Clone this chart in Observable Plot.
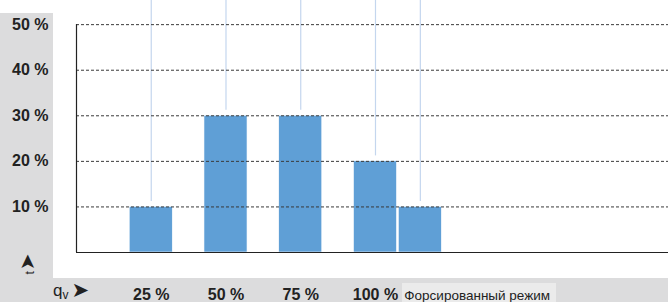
<!DOCTYPE html>
<html>
<head>
<meta charset="utf-8">
<script src="https://cdn.jsdelivr.net/npm/d3@7"></script>
<script src="https://cdn.jsdelivr.net/npm/@observablehq/plot@0.6"></script>
<style>
  html, body { margin: 0; padding: 0; background: #fff; }
  #wrap { position: relative; width: 668px; height: 302px; overflow: hidden; background: #fff;
          font-family: "Liberation Sans Narrow", "Liberation Sans", Arial, sans-serif; }
  .bg { position: absolute; }
  #panel { left: 0; top: 13px; width: 53px; height: 265px; background: #dcdcdd; }
  #band { left: 0; top: 278px; width: 668px; height: 24px; background: #dcdcdd; }
  #fbox { left: 402px; top: 283px; width: 154px; height: 19px; background: #ebebeb; }
  #chart { position: absolute; left: 0; top: 0; }
  #qv { position: absolute; left: 53px; top: 281px; height: 20px; font-size: 17px; line-height: 20px; color: #222; white-space: nowrap; }
  #qv sub { font-size: 12px; vertical-align: -3px; line-height: 0; }
  #qv .arr { font-family: "DejaVu Sans", sans-serif; font-size: 21px; line-height: 18px; margin-left: 3px; display: inline-block; vertical-align: top; }
  #tarrow { position: absolute; left: 15px; top: 254px; width: 30px; height: 20px; line-height: 20px; color: #222;
            transform: rotate(-90deg); transform-origin: center; white-space: nowrap; text-align: center; font-size: 12px; }
  #tarrow .arr { font-family: "DejaVu Sans", sans-serif; font-size: 20px; line-height: 0; margin-left: 1px; }
</style>
</head>
<body>
<div id="wrap">
  <div class="bg" id="panel"></div>
  <div class="bg" id="band"></div>
  <div class="bg" id="fbox"></div>
  <div id="chart"></div>
  <div id="tarrow">t<span class="arr">➤</span></div>
  <div id="qv">q<sub>v</sub><span class="arr">➤</span></div>
</div>
<script>
// Data
const qvLabels = ["25 %", "50 %", "75 %", "100 %", "Форсированный режим"];
const qvPositions = [25, 50, 75, 100, 115];
const shares = [10, 30, 30, 20, 10];
const yTicks = [10, 20, 30, 40, 50];
const xTicks = [25, 50, 75, 100];
const forcedLabel = "Форсированный режим";
const forcedPosition = 115;

const bars = qvLabels.map((label, i) => ({label, q: qvPositions[i], share: shares[i]}));
const half = 7.2;
const yTop = 55.3;

const font = '"Liberation Sans Narrow", "Liberation Sans", Arial, sans-serif';

const chart = Plot.plot({
  width: 668,
  height: 302,
  marginLeft: 76,
  marginRight: 0,
  marginTop: 0,
  marginBottom: 50,
  style: {background: "transparent", fontFamily: font, color: "#222", overflow: "visible"},
  x: {domain: [0, 198]},
  y: {domain: [0, yTop]},
  marks: [
    Plot.ruleX(bars, {x: "q", y1: d => d.share + 1.2, y2: yTop, stroke: "#c4d6ee", strokeWidth: 1.2}),
    Plot.rectY(bars, {x1: d => d.q - half, x2: d => d.q + half, y1: 0, y2: "share", fill: "#5f9fd6", stroke: "#fff", strokeWidth: 0.6}),
    Plot.ruleY(yTicks, {stroke: "#3a3a3a", strokeDasharray: "3,2", strokeWidth: 1}),
    Plot.ruleY([0], {stroke: "#222", strokeWidth: 1.2}),
    Plot.ruleX([0], {y1: 0, y2: 50, stroke: "#222", strokeWidth: 1.2}),
    Plot.axisY({ticks: yTicks, tickFormat: d => d + " %", tickSize: 0, tickPadding: 28, fontSize: 16, fontWeight: "bold", label: null}),
    Plot.axisX({ticks: xTicks, tickFormat: d => d + " %", tickSize: 0, tickPadding: 36, fontSize: 16, fontWeight: "bold", label: null}),
    Plot.axisX([forcedPosition], {tickFormat: () => forcedLabel, tickSize: 0, tickPadding: 38, fontSize: 13.5, fontWeight: "normal", textAnchor: "start", dx: -16, label: null})
  ]
});
document.getElementById("chart").appendChild(chart);
</script>
</body>
</html>
